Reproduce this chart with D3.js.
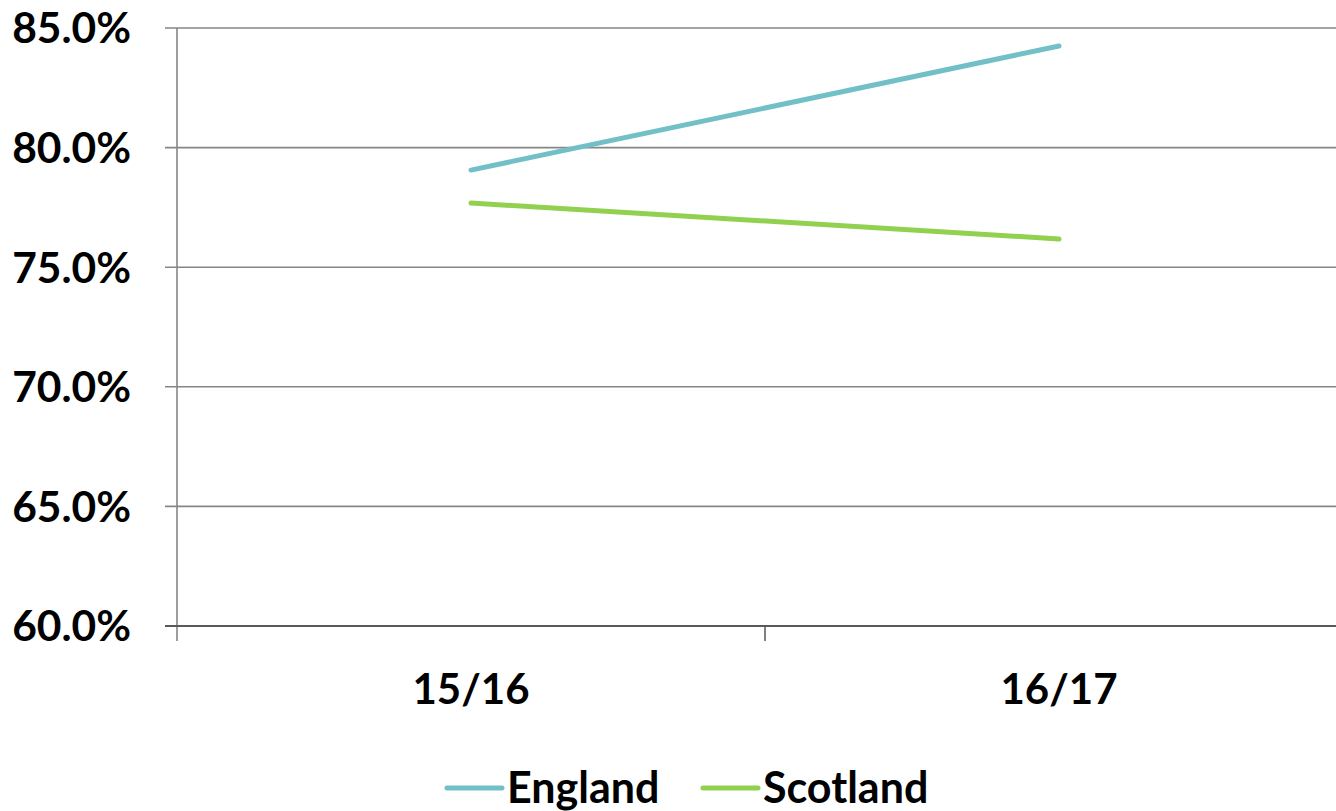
<!DOCTYPE html>
<html><head><meta charset="utf-8">
<script src="https://cdn.jsdelivr.net/npm/d3@7"></script>
<style>body{margin:0;background:#fff}svg{display:block}text{font-family:Lato,"Open Sans",sans-serif;font-weight:bold;fill:#000}</style>
</head><body>
<script>
const categories = ["15/16", "16/17"];
const england = [0.7906, 0.8425];
const scotland = [0.7768, 0.7618];
const yTicks = [0.60, 0.65, 0.70, 0.75, 0.80, 0.85];
const seriesNames = ["England", "Scotland"];
const seriesColors = ["#72C0C7", "#92D050"];

(function () {
const W = 1336, H = 811;
const svg = d3.select("body").append("svg").attr("width", W).attr("height", H);
const pL = 177, pR = 1353, pT = 28, pB = 626;

const x = d3.scaleBand().domain(categories).range([pL, pR]).padding(0);
const y = d3.scaleLinear().domain([0.60, 0.85]).range([pB, pT]);

// gridlines
svg.append("g").selectAll("line").data(yTicks).join("line")
  .attr("x1", pL - 12).attr("x2", pR)
  .attr("y1", d => y(d)).attr("y2", d => y(d))
  .attr("stroke", "#868686").attr("stroke-width", 1.6);

// y axis
const yAxis = d3.axisLeft(y).tickValues(yTicks).tickFormat(d3.format(".1%")).tickSize(0).tickPadding(46);
const gy = svg.append("g").attr("transform", `translate(${pL},0)`).call(yAxis);
gy.select(".domain").remove();
gy.selectAll("text").attr("font-size", 42.5).attr("dy", "0.35em").style("font-family", "Lato, sans-serif").style("font-weight", "bold").attr("fill", "#000");
svg.append("line").attr("x1", pL).attr("x2", pL).attr("y1", pT).attr("y2", pB + 15)
  .attr("stroke", "#868686").attr("stroke-width", 1.6);

// x axis ticks at band boundaries
svg.append("g").selectAll("line").data(categories.slice(1)).join("line")
  .attr("x1", d => x(d)).attr("x2", d => x(d)).attr("y1", pB).attr("y2", pB + 15)
  .attr("stroke", "#000").attr("stroke-width", 1);
svg.append("line").attr("x1", pL - 12).attr("x2", pR).attr("y1", pB).attr("y2", pB)
  .attr("stroke", "#595959").attr("stroke-width", 2);
svg.append("g").selectAll("text").data(categories).join("text")
  .attr("x", d => x(d) + x.bandwidth() / 2).attr("y", 704)
  .attr("text-anchor", "middle").attr("font-size", 42).text(d => d);

// lines
const line = d3.line().x((d, i) => x(categories[i]) + x.bandwidth() / 2).y(d => y(d));
[england, scotland].forEach((s, i) => {
  svg.append("path").attr("d", line(s)).attr("fill", "none")
    .attr("stroke", seriesColors[i]).attr("stroke-width", 5).attr("stroke-linecap", "round");
});

// legend
const legendX = [447, 703];
seriesNames.forEach((n, i) => {
  svg.append("line").attr("x1", legendX[i]).attr("x2", legendX[i] + 55).attr("y1", 788).attr("y2", 788)
    .attr("stroke", seriesColors[i]).attr("stroke-width", 5).attr("stroke-linecap", "round");
  svg.append("text").attr("x", legendX[i] + 60).attr("y", 803).attr("font-size", 43).text(n);
});
})();
</script>
</body></html>
